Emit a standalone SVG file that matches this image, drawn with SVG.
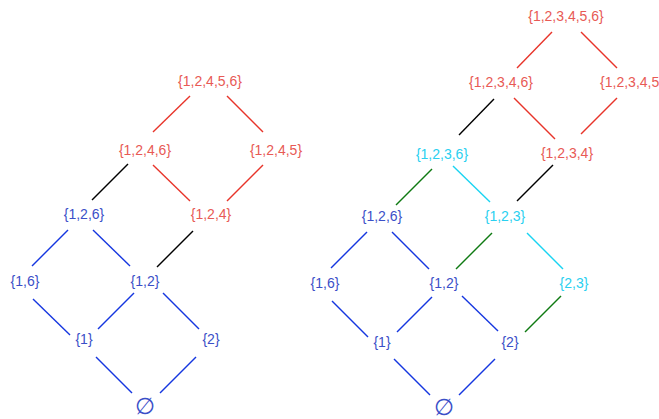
<svg xmlns="http://www.w3.org/2000/svg" width="659" height="419" viewBox="0 0 659 419">
<style>
text{font-family:"Liberation Sans",Arial,sans-serif;font-size:14px;text-anchor:middle;dominant-baseline:central}
.r{fill:#e85a55}.b{fill:#3b4fc8}.c{fill:#2ad0f0}
.e{font-family:"DejaVu Sans","Liberation Sans",sans-serif;font-size:23px}
line{stroke-width:1.4;fill:none}
.lr{stroke:#e8342a}.lb{stroke:#1536e0}.lk{stroke:#000}.lg{stroke:#0f7a12}.lc{stroke:#18d4f2}
</style>
<rect width="659" height="419" fill="#fff"/>
<g id="connectors">
<line class="lr" x1="190" y1="96" x2="153" y2="132"/>
<line class="lr" x1="227" y1="96" x2="263" y2="132"/>
<line class="lk" x1="128" y1="164" x2="92" y2="200"/>
<line class="lr" x1="153" y1="165" x2="190" y2="201"/>
<line class="lr" x1="263" y1="165" x2="227" y2="201"/>
<line class="lb" x1="68" y1="230" x2="32" y2="266"/>
<line class="lb" x1="93" y1="230" x2="130" y2="266"/>
<line class="lk" x1="193" y1="231" x2="157" y2="267"/>
<line class="lb" x1="33" y1="299" x2="70" y2="335"/>
<line class="lb" x1="134" y1="293" x2="98" y2="329"/>
<line class="lb" x1="163" y1="293" x2="199" y2="329"/>
<line class="lb" x1="96" y1="357" x2="132" y2="393"/>
<line class="lb" x1="196" y1="357" x2="160" y2="393"/>
<line class="lr" x1="552" y1="32" x2="517" y2="68"/>
<line class="lr" x1="581" y1="32" x2="617" y2="68"/>
<line class="lk" x1="494" y1="99" x2="459" y2="135"/>
<line class="lr" x1="514" y1="98" x2="555" y2="139"/>
<line class="lr" x1="617" y1="98" x2="581" y2="134"/>
<line class="lg" x1="432" y1="169" x2="396" y2="205"/>
<line class="lc" x1="453" y1="166" x2="490" y2="202"/>
<line class="lk" x1="553" y1="165" x2="517" y2="201"/>
<line class="lb" x1="367" y1="232" x2="331" y2="268"/>
<line class="lb" x1="392" y1="232" x2="429" y2="269"/>
<line class="lg" x1="492" y1="233" x2="456" y2="269"/>
<line class="lc" x1="527" y1="233" x2="563" y2="269"/>
<line class="lb" x1="332" y1="301" x2="368" y2="337"/>
<line class="lb" x1="432" y1="297" x2="397" y2="332"/>
<line class="lb" x1="462" y1="296" x2="498" y2="331"/>
<line class="lg" x1="561" y1="296" x2="525" y2="332"/>
<line class="lb" x1="394" y1="359" x2="430" y2="395"/>
<line class="lb" x1="495" y1="359" x2="459" y2="395"/>
</g>
<g id="L12456"><text class="r" x="210" y="81">{1,2,4,5,6}</text></g>
<g id="L1246"><text class="r" x="145" y="150">{1,2,4,6}</text></g>
<g id="L1245"><text class="r" x="276" y="150">{1,2,4,5}</text></g>
<g id="L126"><text class="b" x="84" y="214">{1,2,6}</text></g>
<g id="L124"><text class="r" x="211" y="214">{1,2,4}</text></g>
<g id="L16"><text class="b" x="25" y="281">{1,6}</text></g>
<g id="L12"><text class="b" x="145" y="281">{1,2}</text></g>
<g id="L1"><text class="b" x="84" y="339">{1}</text></g>
<g id="L2"><text class="b" x="211" y="339">{2}</text></g>
<g id="Lempty"><text class="b e" x="145" y="406">∅</text></g>
<g id="R123456"><text class="r" x="566" y="16">{1,2,3,4,5,6}</text></g>
<g id="R12346"><text class="r" x="501" y="82">{1,2,3,4,6}</text></g>
<g id="R12345"><text class="r" x="632" y="82">{1,2,3,4,5}</text></g>
<g id="R1236"><text class="c" x="442" y="154">{1,2,3,6}</text></g>
<g id="R1234"><text class="r" x="567" y="153">{1,2,3,4}</text></g>
<g id="R126"><text class="b" x="382" y="216">{1,2,6}</text></g>
<g id="R123"><text class="c" x="505" y="216">{1,2,3}</text></g>
<g id="R16"><text class="b" x="325" y="283">{1,6}</text></g>
<g id="R12"><text class="b" x="444" y="283">{1,2}</text></g>
<g id="R23"><text class="c" x="574" y="283">{2,3}</text></g>
<g id="R1"><text class="b" x="382" y="342">{1}</text></g>
<g id="R2"><text class="b" x="510" y="342">{2}</text></g>
<g id="Rempty"><text class="b e" x="444" y="407">∅</text></g>
</svg>
